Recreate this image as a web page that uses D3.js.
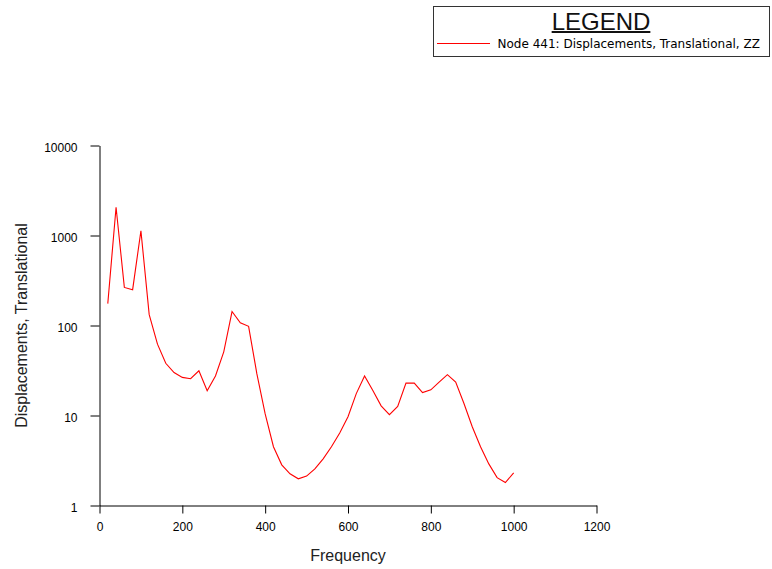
<!DOCTYPE html>
<html>
<head>
<meta charset="utf-8">
<script src="https://cdn.jsdelivr.net/npm/d3@7"></script>
<style>
  html, body { margin: 0; padding: 0; background: #fff; }
  svg { display: block; }
</style>
</head>
<body>
<svg id="chart" width="772" height="569"></svg>
<script>
// Frequency response of node 441, ZZ translational displacement
const frequencies = [20, 40, 60, 80, 100, 120, 140, 160, 180, 200,
                     220, 240, 260, 280, 300, 320, 340, 360, 380, 400,
                     420, 440, 460, 480, 500, 520, 540, 560, 580, 600,
                     620, 640, 660, 680, 700, 720, 740, 760, 780, 800,
                     820, 840, 860, 880, 900, 920, 940, 960, 980, 1000];
const displacements = [175, 2060, 265, 250, 1130, 132, 62, 38, 30, 26.5,
                       25.6, 31.4, 18.8, 27.5, 51, 143, 107, 98, 29, 10.4,
                       4.5, 2.83, 2.25, 1.98, 2.12, 2.55, 3.3, 4.5, 6.4, 9.7,
                       17.5, 27.5, 19, 12.8, 10.2, 12.6, 22.9, 22.9, 18, 19.3,
                       23.5, 28.4, 23.5, 13.6, 7.5, 4.5, 2.9, 2.04, 1.8, 2.3];
const xTicks = [0, 200, 400, 600, 800, 1000, 1200];
const yTicks = [1, 10, 100, 1000, 10000];
const seriesName = "Node 441: Displacements, Translational, ZZ";
const xTitle = "Frequency";
const yTitle = "Displacements, Translational";

const svg = d3.select("#chart");
const tickFont = "'Liberation Sans', Arial, sans-serif";

const x = d3.scaleLinear().domain([0, 1200]).range([99.5, 596.5]);
const y = d3.scaleLog().domain([1, 10000]).range([505.5, 145.5]);

// x axis
const gx = svg.append("g")
  .attr("transform", `translate(0,${y(1)})`)
  .call(d3.axisBottom(x).tickValues(xTicks).tickFormat(d3.format("d"))
    .tickSize(8).tickSizeOuter(0).tickPadding(9));
gx.selectAll("text").attr("font-family", tickFont).attr("font-size", 12).attr("fill", "#000");

// y axis
const gy = svg.append("g")
  .attr("transform", `translate(${x(0)},0)`)
  .call(d3.axisLeft(y).tickValues(yTicks).tickFormat(d3.format("d"))
    .tickSize(9).tickSizeOuter(0).tickPadding(13));
gy.selectAll("text").attr("font-family", tickFont).attr("font-size", 12)
  .attr("fill", "#000").attr("dy", "0.5em");

svg.selectAll(".domain, .tick line").attr("stroke", "#000").attr("stroke-width", 1);

// axis titles
svg.append("text")
  .attr("x", (x(0) + x(1200)) / 2).attr("y", 561)
  .attr("text-anchor", "middle")
  .attr("font-family", tickFont).attr("font-size", 16).attr("fill", "#222")
  .text(xTitle);

svg.append("text")
  .attr("transform", `translate(27,${(y(1) + y(10000)) / 2}) rotate(-90)`)
  .attr("text-anchor", "middle")
  .attr("font-family", tickFont).attr("font-size", 16).attr("fill", "#222")
  .text(yTitle);

// response curve
const line = d3.line()
  .x((d, i) => x(frequencies[i]))
  .y(d => y(d));

svg.append("path")
  .datum(displacements)
  .attr("fill", "none")
  .attr("stroke", "#ff0000")
  .attr("stroke-width", 1.1)
  .attr("d", line);

// legend
const legend = svg.append("g");
legend.append("rect")
  .attr("x", 433.5).attr("y", 6.5).attr("width", 336).attr("height", 50)
  .attr("fill", "#fff").attr("stroke", "#333").attr("stroke-width", 1);

const title = legend.append("text")
  .attr("x", 601).attr("y", 29.5)
  .attr("text-anchor", "middle")
  .attr("font-family", tickFont).attr("font-size", 24).attr("fill", "#111")
  .text("LEGEND");
const tw = title.node().getComputedTextLength();
legend.append("line")
  .attr("x1", 601 - tw / 2).attr("x2", 601 + tw / 2)
  .attr("y1", 32).attr("y2", 32)
  .attr("stroke", "#111").attr("stroke-width", 2);

legend.append("line")
  .attr("x1", 437).attr("x2", 490).attr("y1", 43.5).attr("y2", 43.5)
  .attr("stroke", "#ff0000").attr("stroke-width", 1);
legend.append("text")
  .attr("x", 497.5).attr("y", 48)
  .attr("font-family", "'DejaVu Sans', sans-serif").attr("font-size", 12).attr("fill", "#000")
  .text(seriesName);
</script>
</body>
</html>
